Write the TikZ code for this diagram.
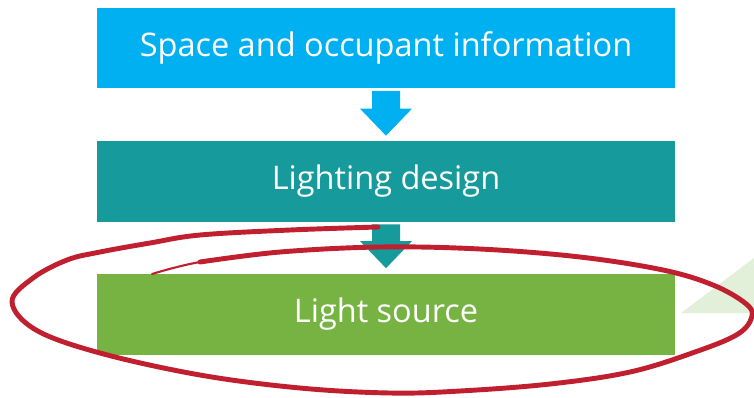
\documentclass[tikz,border=0pt]{standalone}
\usepackage{fontspec}
\setmainfont{Open Sans}
\usetikzlibrary{calc}

\definecolor{bleuEtape}{HTML}{00B0F0}
\definecolor{tealEtape}{HTML}{179A9B}
\definecolor{vertEtape}{HTML}{76B343}
\definecolor{vertPale}{HTML}{E2EFD9}
\definecolor{rougeTrait}{HTML}{C01F30}

% Flèche pleine entre deux étapes : #1 = départ, #2 = arrivée, #3 = couleur
\newcommand{\flechebloc}[3]{%
  \fill[#3] ($(#1.south)+(-14,2)$) -- ($(#1.south)+(14,2)$)
    -- ($(#2.north)+(14,-32)$) -- ($(#2.north)+(26,-32)$)
    -- ($(#2.north)+(0,-5)$)
    -- ($(#2.north)+(-26,-32)$) -- ($(#2.north)+(-14,-32)$) -- cycle;}

\begin{document}
\begin{tikzpicture}[x=0.02cm, y=-0.02cm]
  % Styles des étapes et du trait à main levée
  \tikzset{
    etape/.style={minimum width=11.56cm, minimum height=1.62cm, inner sep=0pt,
      text=white, font=\fontsize{18.5}{22}\selectfont},
    entoure/.style={line width=2.8pt, draw=rougeTrait, line cap=round, line join=round}
  }

  % Cadre (en pixels)
  \useasboundingbox (0,0) rectangle (754,397);

  % Triangle clair à droite, coupé par le bord
  \fill[vertPale] (681,313) -- (754,258) -- (754,313) -- cycle;

  % --- Les trois étapes ---
  \node[etape, fill=bleuEtape] (espace) at (386,48) {Space and occupant information};
  \node[etape, fill=tealEtape] (eclairage) at (386,181.5) {Lighting design};
  \node[etape, fill=vertEtape] (source) at (386,314) {Light source};

  % Flèches entre les étapes
  \flechebloc{espace}{eclairage}{bleuEtape}
  \flechebloc{eclairage}{source}{tealEtape}

  % --- Ellipse rouge autour de la dernière étape ---
  % début du trait, plus fin
  \draw[entoure, line width=1.2pt] plot[smooth, tension=0.6] coordinates {
    (152,274) (200,262) (280,252)};
  \draw[entoure] plot[smooth, tension=0.6] coordinates {
    (200,262) (280,252) (380,247) (480,249) (580,257) (663,270) (713,285)
    (745,303) (752,316) (738,334) (695,352) (630,372) (550,384) (460,391)
    (390,393) (300,388) (200,375) (100,353) (36,330) (12,302) (33,278)
    (67,260) (100,252) (150,243) (200,235) (290,230) (378,227)};

\end{tikzpicture}
\end{document}
